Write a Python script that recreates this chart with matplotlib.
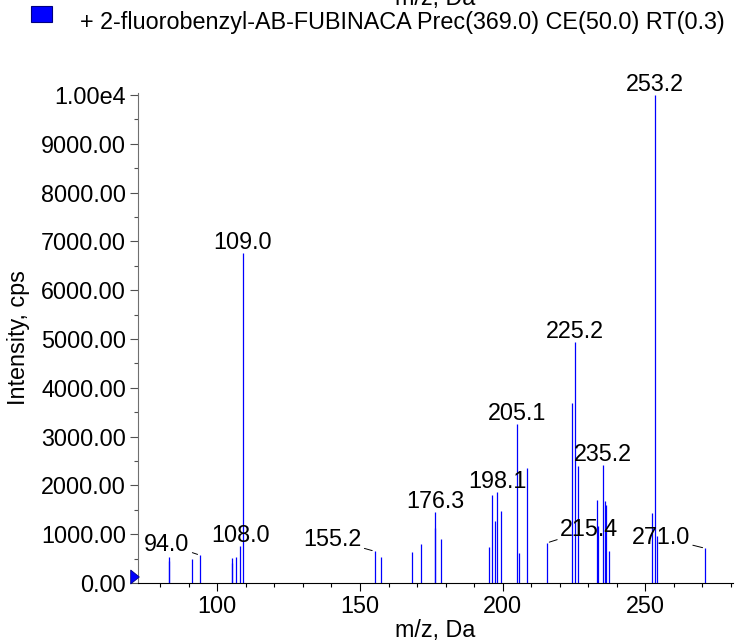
import matplotlib
matplotlib.use('Agg')
import matplotlib.pyplot as plt
from matplotlib.ticker import MultipleLocator, FuncFormatter
from matplotlib.patches import Rectangle, Polygon

plt.rcParams['font.family'] = ['Liberation Sans', 'DejaVu Sans']
plt.rcParams['font.size'] = 16.8

# peak list (m/z, cps)
mz = [83.0, 83.2, 91.2, 94.0, 105.0, 105.3, 106.5, 108.0, 109.0,
      155.2, 157.5, 168.3, 171.4, 176.1, 176.3, 178.4,
      195.2, 196.3, 197.3, 198.1, 199.3, 205.1, 205.8, 208.4,
      215.4, 224.3, 225.2, 226.4, 233.1, 233.3, 235.2, 235.9, 236.3, 237.3,
      252.3, 253.2, 254.2, 271.0]
intensity = [527, 457, 498, 568, 512, 416, 527, 758, 6756,
             649, 540, 635, 800, 1134, 1448, 902,
             731, 1796, 1277, 1858, 1475, 3251, 608, 2350,
             820, 3682, 4932, 2404, 1700, 1175, 2418, 1680, 1600, 656,
             1434, 10000, 963, 710]

label_mz = [94.0, 108.0, 109.0, 155.2, 176.3, 198.1, 205.1, 215.4,
            225.2, 235.2, 253.2, 271.0]
# labels that sit beside their peak with a leader line (offset in points)
leader = {94.0: (-24, 8), 155.2: (-30.5, 8.5), 215.4: (30.5, 9.6),
          271.0: (-32, 8)}

title = '+ 2-fluorobenzyl-AB-FUBINACA Prec(369.0) CE(50.0) RT(0.3)'

W, H = 737, 641
fig = plt.figure(figsize=(W / 100, H / 100), dpi=100)
ax = fig.add_axes([138 / W, 58 / H, 595 / W, 490 / H])

ax.vlines(mz, 0, intensity, color='#0000ff', lw=0.9)

ax.set_xlim(72.2, 280.7)
ax.set_ylim(0, 10040)

ax.xaxis.set_major_locator(MultipleLocator(50))
ax.xaxis.set_minor_locator(MultipleLocator(10))
ax.yaxis.set_major_locator(MultipleLocator(1000))
ax.yaxis.set_minor_locator(MultipleLocator(500))
ax.yaxis.set_major_formatter(FuncFormatter(
    lambda v, p: '1.00e4' if v >= 10000 else '%.2f' % v))

for s in ['top', 'right']:
    ax.spines[s].set_visible(False)
ax.spines['left'].set_color('#707070')
ax.spines['bottom'].set_color('black')
ax.tick_params(axis='x', which='major', length=5.5, width=0.8, pad=3)
ax.tick_params(axis='x', which='minor', length=3, width=0.8)
ax.tick_params(axis='y', which='major', length=5.5, width=0.8, pad=3,
               color='#505050')
ax.tick_params(axis='y', which='minor', length=3, width=0.8, color='#505050')

ax.set_xlabel('m/z, Da', labelpad=1)
fig.text(19 / W, 1 - 338 / H, 'Intensity, cps', rotation=90,
         ha='center', va='center')

heights = dict(zip(mz, intensity))
for m in label_mz:
    y = heights[m]
    txt = '%.1f' % m
    if m in leader:
        ax.annotate(txt, xy=(m, y), xytext=leader[m],
                    textcoords='offset points', ha='center', va='center',
                    arrowprops=dict(arrowstyle='-', lw=0.7, color='black',
                                    shrinkA=0, shrinkB=2))
    else:
        ax.annotate(txt, xy=(m, y), xytext=(0, 3.2),
                    textcoords='offset points', ha='center', va='baseline')

# zero marker on the intensity axis
fig.add_artist(Polygon([(130.7 / W, 1 - 570 / H), (130.7 / W, 1 - 584 / H),
                        (139.3 / W, 1 - 577 / H)], closed=True,
                       facecolor='#0000ff', edgecolor='#000080', lw=0.6,
                       transform=fig.transFigure))

# legend row and cut-off axis title of the panel above
fig.add_artist(Rectangle((31 / W, 1 - 22 / H), 21 / W, 16 / H,
                         facecolor='#0000ff', edgecolor='#000080', lw=0.8,
                         transform=fig.transFigure))
fig.text(80 / W, 1 - 23 / H, title, ha='left', va='center')
fig.text(435.5 / W, 1 - 5 / H, 'm/z, Da', ha='center', va='baseline')

fig.savefig('out.png', dpi=100)
